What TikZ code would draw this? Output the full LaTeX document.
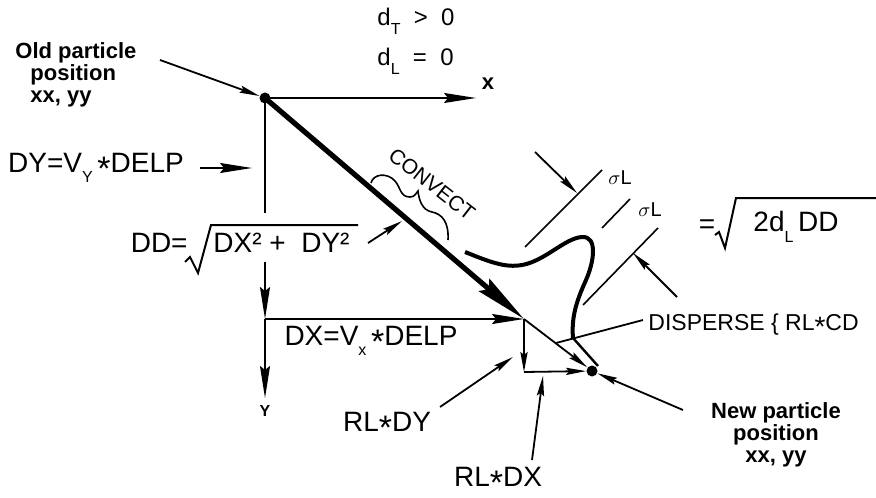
\documentclass[tikz,border=0pt]{standalone}
\usepackage{fontspec}
\setmainfont{Liberation Sans}
\usetikzlibrary{arrows.meta}
\newcommand\dsub[1]{\raisebox{-0.38em}{\fontsize{8}{8}\selectfont #1}}
\newcommand\stx{{\fontsize{17}{17}\selectfont\raisebox{-0.24em}[0pt][0pt]{*}}}
\begin{document}
\begin{tikzpicture}[x=0.5pt,y=-0.5pt,
  thinln/.style={line width=0.9pt},
  arrS/.style={-{Stealth[length=10pt,width=3.6pt,inset=1.5pt]}, line width=0.9pt},
  arrM/.style={-{Stealth[length=16pt,width=5pt,inset=2pt]}, line width=0.9pt},
  arrL/.style={-{Stealth[length=26pt,width=8pt,inset=3pt]}, line width=2.6pt},
  big/.style={font=\fontsize{14}{16}\selectfont, inner sep=0pt},
  lab/.style={font=\bfseries\fontsize{11}{11}\selectfont, inner sep=0pt},
  small/.style={font=\fontsize{10}{12}\selectfont, inner sep=0pt},
  dot/.style={circle,fill,inner sep=0pt,minimum size=5.5pt}]
\useasboundingbox (0,0) rectangle (876,497);
% particles and key points
\node[dot] (old) at (265,98) {};
\node[dot] (new) at (592,371) {};
\coordinate (mid) at (524,319);
\coordinate (corner) at (524,372);
\coordinate (xend) at (476,98);
\coordinate (ya) at (265,213);
\coordinate (yb) at (265,262);
\coordinate (ydx) at (265,319);
\coordinate (yend) at (265,398);
% axes
\draw[arrM] (old.center) -- (xend);
\draw[thinln] (old.center) -- (ya);
\draw[arrM] (yb) -- (ydx);
\draw[arrM] (ydx) -- (yend);
\draw[arrM] (ydx) -- (mid);
\draw[arrL] (old.center) -- (mid);
\draw[arrS] (mid) -- (new);
\draw[arrS] (mid) -- (corner);
\draw[arrS] (corner) -- (new);
\node[lab] (xl) at (488,84) {x};
\node[font=\bfseries\fontsize{8}{9}\selectfont, inner sep=0pt] (yl) at (265,411) {Y};
% top formulas
\node[font=\fontsize{12}{14}\selectfont, inner sep=0pt, anchor=west] (dt) at (377,21) {d\dsub{T}\ \ >\ \ 0};
\node[font=\fontsize{12}{14}\selectfont, inner sep=0pt, anchor=west] (dl) at (377,61) {d\dsub{L}\ \ =\ \ 0};
% old particle
\node[lab, anchor=west, align=left] (oldt) at (15,75) {Old particle\\\hspace{7.5pt}position\\\hspace{7.5pt}xx, yy};
\coordinate (oa) at (160,60);
\draw[arrS] (oa) -- (old);
% DY
\node[big] (dy) at (96,168) {DY=V\dsub{Y}\,\stx DELP};
\coordinate (dya) at (200,168);
\coordinate (dyb) at (252,168);
\draw[arrM] (dya) -- (dyb);
% DD
\node[big, anchor=east] (dd) at (188,243) {DD=};
\node[big, anchor=west] (rad) at (213,243) {DX² + \ DY²};
\draw[line width=1pt] (185,262) -- (190,257) -- (198,273) -- (211,225) -- (358,225);
\coordinate (dda) at (368,243);
\coordinate (ddb) at (402,221);
\draw[arrS] (dda) -- (ddb);
% DX
\node[big] (dx) at (371,341) {DX=V\dsub{x}\,\stx DELP};
% convect
\node[font=\fontsize{10.5}{12}\selectfont, inner sep=0pt, rotate=-38] (conv) at (432,184) {CONVECT};
\draw[line width=0.8pt] (371,183) .. controls (373,174) and (387,172) .. (395,181)
  .. controls (401,188) and (400,197) .. (410,197)
  .. controls (415,197) and (416,193) .. (418,191)
  .. controls (419,200) and (422,210) .. (432,212)
  .. controls (442,214) and (449,222) .. (448,240);
% dispersion curve
\draw[line width=2pt] (465,252) .. controls (490,262) and (505,268) .. (522,265)
  .. controls (545,261) and (565,238) .. (582,237)
  .. controls (598,236) and (594,262) .. (586,280)
  .. controls (578,298) and (571,315) .. (573,338);
\draw[line width=1.2pt] (573,338) -- (598,366);
\coordinate (dispL) at (643,320);
\coordinate (dispE) at (556,343);
\draw[thinln] (dispL) -- (dispE);
\node[font=\fontsize{11.5}{13}\selectfont, inner sep=0pt, anchor=west] (disp) at (648,325) {DISPERSE \{ RL{\fontsize{14}{14}\selectfont\raisebox{-0.2em}[0pt][0pt]{*}}CD};
% sigma lines
\draw[line width=0.8pt] (525,247) -- (602,170);
\draw[line width=0.8pt] (602,228) -- (630,199);
\draw[line width=0.8pt] (583,305) -- (658,228);
\coordinate (s1a) at (535,152);
\coordinate (s1b) at (577,193);
\coordinate (s2a) at (677,297);
\coordinate (s2b) at (633,253);
\draw[arrS] (s1a) -- (s1b);
\draw[arrS] (s2a) -- (s2b);
\node[small] (sg1) at (620,178) {$\sigma$L};
\node[small] (sg2) at (650,210) {$\sigma$L};
\node[big] (eq) at (707,227) {=};
\draw[line width=1pt] (715,235) -- (719,232) -- (725,248) -- (736,198) -- (876,198);
\node[big] (r2) at (796,227) {2d\dsub{L}\,DD};
% RL labels
\node[big] (rldy) at (387,422) {RL\stx DY};
\coordinate (rya) at (440,407);
\coordinate (ryb) at (513,357);
\draw[arrS] (rya) -- (ryb);
\node[big] (rldx) at (498,477) {RL\stx DX};
\coordinate (rxa) at (532,460);
\coordinate (rxb) at (543,376);
\draw[arrS] (rxa) -- (rxb);
% new particle
\node[lab, align=center] (newt) at (776,435) {New particle\\position\\xx, yy};
\coordinate (na) at (683,410);
\draw[arrS] (na) -- (new);
\end{tikzpicture}
\end{document}
